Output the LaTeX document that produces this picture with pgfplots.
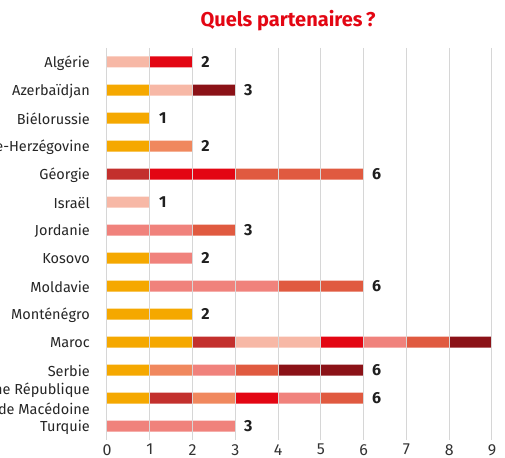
\documentclass[border=0pt]{standalone}
\usepackage{fontspec}
\setmainfont{Fira Sans}
\usepackage{pgfplots}
\pgfplotsset{compat=1.18}
\usepackage{pgfplotstable}
\usetikzlibrary{calc}
\definecolor{cO}{HTML}{F5A800}
\definecolor{cC}{HTML}{C3302D}
\definecolor{cS}{HTML}{F0885E}
\definecolor{cP}{HTML}{F7B8A6}
\definecolor{cR}{HTML}{E30613}
\definecolor{cK}{HTML}{F0827C}
\definecolor{cV}{HTML}{E05A40}
\definecolor{cD}{HTML}{8B1217}
\definecolor{gridc}{HTML}{D6D6D6}
\definecolor{titlered}{HTML}{E30613}
\pgfplotstableread{
y O C S P R K V D
0 0 0 0 1 1 0 0 0
1 1 0 0 1 0 0 0 1
2 1 0 0 0 0 0 0 0
3 1 0 1 0 0 0 0 0
4 0 1 0 0 2 0 3 0
5 0 0 0 1 0 0 0 0
6 0 0 0 0 0 2 1 0
7 1 0 0 0 0 1 0 0
8 1 0 0 0 0 3 2 0
9 2 0 0 0 0 0 0 0
10 2 1 0 2 1 1 1 1
11 1 0 1 0 0 1 1 2
12 1 1 1 0 1 1 1 0
13 0 0 0 0 0 3 0 0
}\data
\tikzset{vl/.style={font=\bfseries\fontsize{16}{16}\selectfont, text=black!88, xshift=13pt}}
\begin{document}
\begin{tikzpicture}
\begin{axis}[
  scale only axis, width=385pt, height=392pt,
  xbar stacked, bar width=11pt,
  xmin=0, xmax=9, ymin=-0.5, ymax=13.5, y dir=reverse,
  axis line style={draw=none}, tick style={draw=none},
  xmajorgrids, grid style={color=gridc, line width=1pt},
  axis on top,
  xtick={0,...,9},
  ytick={0,...,13},
  yticklabels={Algérie, Azerbaïdjan, Biélorussie, Bosnie-Herzégovine, Géorgie, Israël, Jordanie, Kosovo, Moldavie, Monténégro, Maroc, Serbie, {Ancienne République\\de Macédoine}, Turquie},
  yticklabel style={align=right, font=\fontsize{14.5}{20}\selectfont, inner sep=0pt, xshift=-17pt, yshift=-1pt, text=black!85},
  xticklabel style={font=\fontsize{16}{16}\selectfont, inner sep=0pt, anchor=north, yshift=-4pt, text=black!80},
  /pgf/number format/assume math mode=true,
  every axis plot/.append style={draw=none},
]
\addplot[fill=cO] table[x=O, y=y] {\data};
\addplot[fill=cC] table[x=C, y=y] {\data};
\addplot[fill=cS] table[x=S, y=y] {\data};
\addplot[fill=cP] table[x=P, y=y] {\data};
\addplot[fill=cR] table[x=R, y=y] {\data};
\addplot[fill=cK] table[x=K, y=y] {\data};
\addplot[fill=cV] table[x=V, y=y] {\data};
\addplot[fill=cD] table[x=D, y=y] {\data};
\node[vl] at (axis cs:2,0) {2};
\node[vl] at (axis cs:3,1) {3};
\node[vl] at (axis cs:1,2) {1};
\node[vl] at (axis cs:2,3) {2};
\node[vl] at (axis cs:6,4) {6};
\node[vl] at (axis cs:1,5) {1};
\node[vl] at (axis cs:3,6) {3};
\node[vl] at (axis cs:2,7) {2};
\node[vl] at (axis cs:6,8) {6};
\node[vl] at (axis cs:2,9) {2};
\node[vl] at (axis cs:9,10) {9};
\node[vl] at (axis cs:6,11) {6};
\node[vl] at (axis cs:6,12) {6};
\node[vl] at (axis cs:3,13) {3};
\coordinate (O) at (axis cs:0,13.5);
\end{axis}
\node[font=\bfseries\fontsize{20}{20}\selectfont, text=titlered] at ($(O)+(181pt,419pt)$) {Quels partenaires\,?};
\pgfresetboundingbox
\path[use as bounding box] ($(O)+(-107pt,-17pt)$) rectangle ++(505pt,457pt);
\end{tikzpicture}
\end{document}
